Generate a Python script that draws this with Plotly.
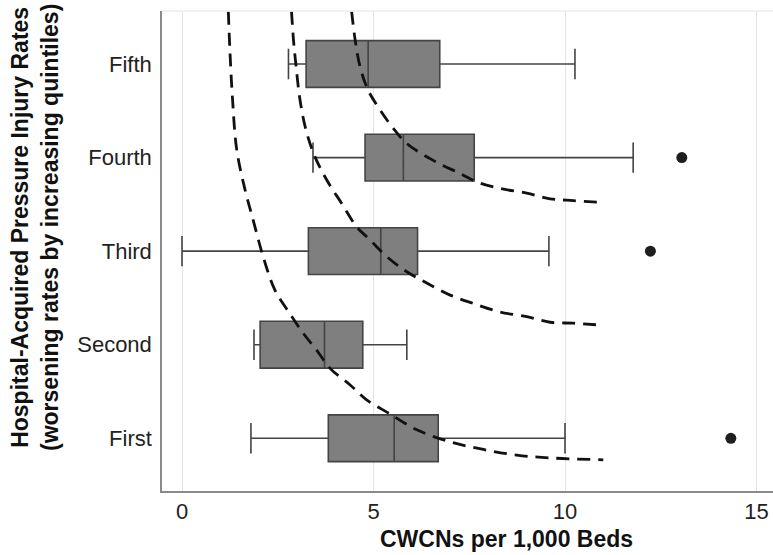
import plotly.graph_objects as go

# ---- data ----
categories = ["First", "Second", "Third", "Fourth", "Fifth"]
lower_whisker = [1.80, 1.88, 0.00, 3.42, 2.78]
q1_vals = [3.82, 2.04, 3.30, 4.78, 3.24]
median_vals = [5.54, 3.72, 5.19, 5.78, 4.86]
q3_vals = [6.69, 4.72, 6.15, 7.63, 6.73]
upper_whisker = [10.00, 5.87, 9.58, 11.78, 10.26]

outlier_cats = ["First", "Third", "Fourth"]
outlier_vals = [14.33, 12.23, 13.05]

# dashed reference curves (x = CWCNs, y = position on the quintile axis)
curve1_x = [1.21, 1.25, 1.32, 1.43, 1.65, 1.86, 2.12, 2.43, 2.82, 3.17, 3.52, 3.86, 4.39, 4.82, 5.43, 6.13, 7.01, 7.87, 8.74, 9.61, 11.00]
curve1_y = [4.56, 4.15, 3.62, 3.08, 2.65, 2.33, 1.94, 1.58, 1.33, 1.12, 0.94, 0.75, 0.57, 0.41, 0.26, 0.09, -0.04, -0.12, -0.18, -0.21, -0.23]
curve2_x = [2.86, 2.91, 2.98, 3.08, 3.24, 3.47, 3.78, 4.17, 4.56, 4.91, 5.35, 5.87, 6.39, 7.00, 7.61, 8.30, 9.00, 9.61, 10.22, 10.91]
curve2_y = [4.56, 4.26, 3.97, 3.62, 3.29, 3.01, 2.76, 2.51, 2.26, 2.12, 1.94, 1.78, 1.66, 1.53, 1.44, 1.35, 1.30, 1.24, 1.23, 1.21]
curve3_x = [4.43, 4.52, 4.65, 4.86, 5.17, 5.56, 5.87, 6.56, 7.26, 7.70, 8.30, 9.00, 9.61, 10.22, 11.00]
curve3_y = [4.56, 4.26, 3.97, 3.72, 3.51, 3.29, 3.15, 2.97, 2.83, 2.74, 2.67, 2.62, 2.56, 2.54, 2.52]

x_ticks = [0, 5, 10, 15]

positions = {c: i for i, c in enumerate(categories)}

W, H = 773, 555
ML, MR, MT, MB = 162, 0, 11, 64

fig = go.Figure()

fig.add_trace(go.Box(
    y=[positions[c] for c in categories],
    q1=q1_vals, median=median_vals, q3=q3_vals,
    lowerfence=lower_whisker, upperfence=upper_whisker,
    orientation="h",
    width=0.5,
    whiskerwidth=0.65,
    fillcolor="#7f7f7f",
    line=dict(color="#444444", width=1.6),
    boxpoints=False,
    showlegend=False,
    hoverinfo="skip",
))

fig.add_trace(go.Scatter(
    x=outlier_vals, y=[positions[c] for c in outlier_cats],
    mode="markers",
    marker=dict(color="#1e1e1e", size=11),
    showlegend=False,
))

for cx, cy in [(curve1_x, curve1_y), (curve2_x, curve2_y), (curve3_x, curve3_y)]:
    fig.add_trace(go.Scatter(
        x=cx, y=cy, mode="lines",
        line=dict(color="#111111", width=2.8, dash="13px,8px", shape="spline"),
        showlegend=False, hoverinfo="skip", cliponaxis=True,
    ))

x_range = [-(182 - ML) / 38.3, (W - MR - 182) / 38.3]
y_range = [-(490.7 - 438) / 93.5, (438 - MT) / 93.5]

fig.update_layout(
    width=W, height=H,
    margin=dict(l=ML, r=MR, t=MT, b=MB, pad=0),
    paper_bgcolor="white", plot_bgcolor="white",
    font=dict(family="Liberation Sans, Arial, sans-serif", color="#222222"),
    xaxis=dict(
        range=x_range, tickvals=x_ticks, ticktext=[str(v) for v in x_ticks],
        showgrid=True, gridcolor="#e4e4e4", gridwidth=1,
        zeroline=False, showline=True, linecolor="#8a8a8a", linewidth=1.5,
        ticks="", tickfont=dict(size=22, color="#222222"),
        ticklabelstandoff=0, automargin=False,
    ),
    yaxis=dict(
        range=y_range, tickvals=list(positions.values()), ticktext=categories,
        showgrid=False, zeroline=False, showline=True, linecolor="#8a8a8a", linewidth=1.5,
        ticks="", tickfont=dict(size=22, color="#222222"),
        ticklabelstandoff=4, automargin=False,
    ),
    shapes=[dict(type="line", xref="paper", yref="paper", x0=0, x1=1, y0=1, y1=1,
                 line=dict(color="#ececec", width=1.5))],
)

pw = W - ML - MR
ph = H - MT - MB

def px_to_paper(px, py):
    return (px - ML) / pw, (H - MB - py) / ph

tx, ty = px_to_paper(506, 538.5)
fig.add_annotation(text="<b>CWCNs per 1,000 Beds</b>", xref="paper", yref="paper",
                   x=tx, y=ty, xanchor="center", yanchor="middle", showarrow=False,
                   font=dict(size=23, color="#111111"))
ax_, ay_ = px_to_paper(35, 228)
fig.add_annotation(text="<b>Hospital-Acquired Pressure Injury Rates<br>(worsening rates by increasing quintiles)</b>",
                   xref="paper", yref="paper", x=ax_, y=ay_, xanchor="center", yanchor="middle",
                   textangle=-90, showarrow=False, font=dict(size=23, color="#111111"))

fig.write_html(
    "out.html",
    config={"displayModeBar": False},
    post_script="document.body.style.margin='0px';document.body.style.overflow='hidden';",
)
